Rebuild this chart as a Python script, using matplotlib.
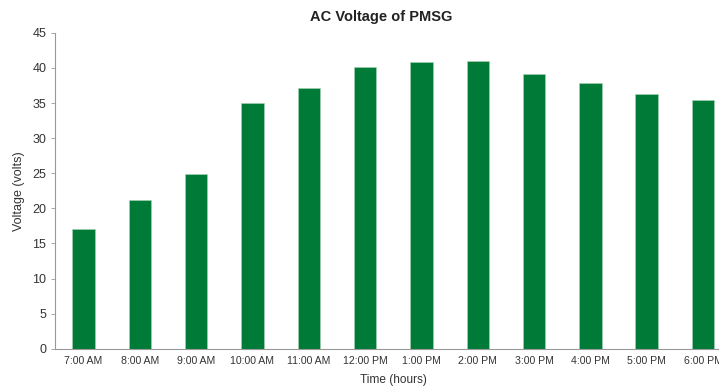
import numpy as np
import matplotlib.pyplot as plt

plt.rcParams['font.family'] = ['Liberation Sans', 'DejaVu Sans']

hours = ['7:00 AM', '8:00 AM', '9:00 AM', '10:00 AM', '11:00 AM', '12:00 PM',
         '1:00 PM', '2:00 PM', '3:00 PM', '4:00 PM', '5:00 PM', '6:00 PM']
voltage = [17.0, 21.2, 24.9, 35.0, 37.2, 40.2, 40.8, 41.0, 39.2, 37.8, 36.3, 35.5]

fig = plt.figure(figsize=(7.19, 3.87), dpi=100)
ax = fig.add_axes([0.077, 0.099, 0.94, 0.816])

x = np.arange(len(hours))
ax.bar(x, voltage, width=0.4, color='#007A37', edgecolor='#a8d5b5', linewidth=0.4)

ax.set_xlim(-0.5, 11.5)
ax.set_ylim(0, 45)
ax.set_yticks(np.arange(0, 46, 5))
ax.set_xticks(x)
ax.set_xticklabels(hours, fontsize=7.6, color='#333333')
ax.tick_params(axis='y', labelsize=9, colors='#333333', length=3, width=0.6, color='#999999')
ax.tick_params(axis='x', length=0, pad=5)

for side in ['top', 'right']:
    ax.spines[side].set_visible(False)
for side in ['left', 'bottom']:
    ax.spines[side].set_color('#999999')
    ax.spines[side].set_linewidth(0.8)

ax.set_ylabel('Voltage (volts)', fontsize=9, color='#333333', labelpad=5)
ax.set_xlabel('Time (hours)', fontsize=8.6, color='#333333', labelpad=6)
fig.text(0.53, 0.957, 'AC Voltage of PMSG', ha='center', va='center',
         fontsize=10.5, fontweight='bold', color='#222222')

plt.savefig('out.png', dpi=100)
